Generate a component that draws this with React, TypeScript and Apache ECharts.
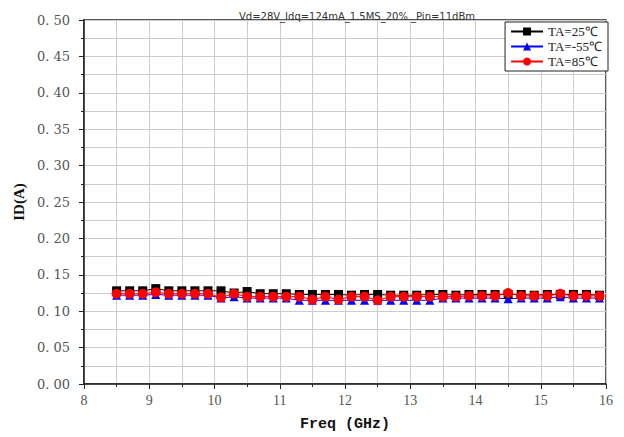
import React, { useEffect, useRef } from "react";
import * as echarts from "echarts";

const freqs = [8.5, 8.7, 8.9, 9.1, 9.3, 9.5, 9.7, 9.9, 10.1, 10.3, 10.5, 10.7, 10.9, 11.1, 11.3, 11.5, 11.7, 11.9, 12.1, 12.3, 12.5, 12.7, 12.9, 13.1, 13.3, 13.5, 13.7, 13.9, 14.1, 14.3, 14.5, 14.7, 14.9, 15.1, 15.3, 15.5, 15.7, 15.9];
const ta25 = [0.128, 0.128, 0.128, 0.131, 0.128, 0.128, 0.128, 0.128, 0.128, 0.125, 0.127, 0.124, 0.124, 0.124, 0.123, 0.123, 0.123, 0.123, 0.122, 0.123, 0.123, 0.122, 0.122, 0.122, 0.123, 0.123, 0.122, 0.123, 0.123, 0.123, 0.123, 0.123, 0.122, 0.123, 0.123, 0.123, 0.123, 0.122];
const taM55 = [0.122, 0.122, 0.122, 0.123, 0.122, 0.122, 0.122, 0.122, 0.118, 0.120, 0.118, 0.118, 0.118, 0.118, 0.115, 0.115, 0.115, 0.115, 0.115, 0.115, 0.115, 0.115, 0.115, 0.115, 0.115, 0.118, 0.118, 0.118, 0.118, 0.118, 0.117, 0.118, 0.118, 0.118, 0.120, 0.118, 0.118, 0.118];
const ta85 = [0.124, 0.124, 0.124, 0.126, 0.124, 0.124, 0.124, 0.124, 0.119, 0.124, 0.120, 0.120, 0.120, 0.120, 0.120, 0.116, 0.120, 0.116, 0.120, 0.120, 0.115, 0.120, 0.120, 0.120, 0.120, 0.120, 0.120, 0.121, 0.121, 0.121, 0.125, 0.121, 0.121, 0.121, 0.124, 0.121, 0.121, 0.121];
const titleText = "Vd=28V_Idq=124mA_1.5MS_20% _Pin=11dBm";

export default function App() {
  const ref = useRef<HTMLDivElement>(null);
  useEffect(() => {
    if (!ref.current) return;
    const chart = echarts.init(ref.current, null, { renderer: "svg" });
    const mk = (arr: number[]) => freqs.map((f, i) => [f, arr[i]]);
    const serif = "Liberation Serif";
    chart.setOption({
      animation: false,
      backgroundColor: "#fff",
      title: {
        text: titleText,
        left: 352,
        textAlign: "center",
        top: 6,
        textStyle: { fontSize: 10, fontWeight: "normal", color: "#333", fontFamily: "DejaVu Sans" },
      },
      grid: { left: 84, right: 18, top: 20, bottom: 53, show: true, borderColor: "#222", borderWidth: 1.5, backgroundColor: "transparent" },
      legend: {
        orient: "vertical",
        right: 16,
        top: 22,
        backgroundColor: "#fff",
        borderColor: "#222",
        borderWidth: 1,
        borderRadius: 0,
        padding: [3, 6, 3, 5],
        itemGap: 2,
        itemWidth: 32,
        itemHeight: 10,
        textStyle: { fontFamily: serif, fontSize: 13, color: "#222" },
        data: ["TA=25℃", "TA=-55℃", "TA=85℃"],
      },
      xAxis: {
        type: "value",
        min: 8,
        max: 16,
        interval: 1,
        name: "Freq (GHz)",
        nameLocation: "middle",
        nameGap: 33,
        nameTextStyle: { fontFamily: "Liberation Mono", fontWeight: "bold", fontSize: 15, color: "#111" },
        axisLine: { lineStyle: { color: "#222", width: 1.5 } },
        axisTick: { length: 5, lineStyle: { color: "#222" } },
        minorTick: { show: true, splitNumber: 2, length: 3, lineStyle: { color: "#222" } },
        axisLabel: { fontFamily: serif, fontSize: 14, color: "#555", margin: 9 },
        splitLine: { show: true, lineStyle: { color: "#ccc", width: 1 } },
        minorSplitLine: { show: true, lineStyle: { color: "#ccc", width: 1 } },
      },
      yAxis: {
        type: "value",
        min: 0,
        max: 0.5,
        interval: 0.05,
        name: "ID(A)",
        nameLocation: "middle",
        nameGap: 57,
        nameTextStyle: { fontFamily: "Liberation Serif", fontWeight: "bold", fontSize: 15, color: "#111" },
        axisLine: { lineStyle: { color: "#222", width: 1.5 } },
        axisTick: { length: 5, lineStyle: { color: "#222" } },
        minorTick: { show: true, splitNumber: 2, length: 3, lineStyle: { color: "#222" } },
        axisLabel: { fontFamily: "DejaVu Serif", fontSize: 13, color: "#555", margin: 14, formatter: (v: number) => v.toFixed(2).replace(".", ". ") },
        splitLine: { show: true, lineStyle: { color: "#ccc", width: 1 } },
        minorSplitLine: { show: true, lineStyle: { color: "#ccc", width: 1 } },
      },
      series: [
        {
          name: "TA=25℃",
          type: "line",
          data: mk(ta25),
          symbol: "rect",
          symbolSize: 9,
          itemStyle: { color: "#000" },
          lineStyle: { color: "#000", width: 1 },
        },
        {
          name: "TA=-55℃",
          type: "line",
          data: mk(taM55),
          symbol: "triangle",
          symbolSize: 9,
          itemStyle: { color: "#0000ff" },
          lineStyle: { color: "#0000ff", width: 1 },
        },
        {
          name: "TA=85℃",
          type: "line",
          data: mk(ta85),
          symbol: "circle",
          symbolSize: 10,
          itemStyle: { color: "#ff0000" },
          lineStyle: { color: "#ff0000", width: 1 },
        },
      ],
    });
    return () => chart.dispose();
  }, []);
  return <div ref={ref} style={{ width: 624, height: 437, position: "fixed", left: 0, top: 0 }} />;
}
